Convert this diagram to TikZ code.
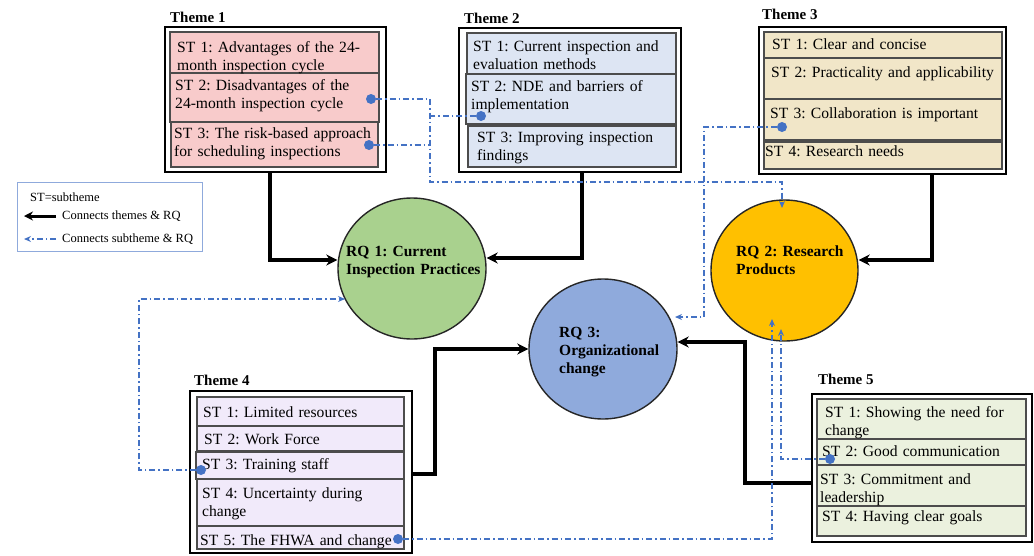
\documentclass[tikz,border=0pt]{standalone}
\usepackage{fontspec}
\setmainfont{Liberation Serif}
\usetikzlibrary{arrows.meta,fit,shapes.geometric}
\definecolor{pinkf}{RGB}{248,203,203}
\definecolor{bluef}{RGB}{221,229,243}
\definecolor{tanf}{RGB}{241,230,200}
\definecolor{lavf}{RGB}{241,234,250}
\definecolor{grnf}{RGB}{235,241,222}
\definecolor{rqgreen}{RGB}{169,209,142}
\definecolor{rqorange}{RGB}{255,192,0}
\definecolor{rqblue}{RGB}{143,170,220}
\definecolor{lnblue}{RGB}{68,114,196}
\definecolor{legb}{RGB}{143,170,220}
\begin{document}
\frenchspacing
\begin{tikzpicture}[x=1pt,y=-1pt,
  outer/.style={draw=black,line width=2.2pt,inner sep=0pt,fill=white},
  stbox/.style={draw=black!70,line width=1.2pt,inner sep=0pt},
  sttext/.style={anchor=base west,inner sep=0pt,align=left,text width=240pt,
     font=\fontsize{15.6}{18}\selectfont},
  thlabel/.style={anchor=base west,inner sep=0pt,font=\fontsize{15}{16}\selectfont\bfseries},
  rqtext/.style={anchor=base west,inner sep=0pt,align=left,text width=140pt,
     font=\fontsize{15.5}{18}\selectfont\bfseries},
  rq/.style={draw=black!85,line width=1.4pt,ellipse,inner sep=0pt},
  blk/.style={draw=black,line width=3.2pt,-{Stealth[length=11pt,width=11pt]}},
  blu/.style={draw=lnblue,line width=1.4pt,dash pattern=on 6pt off 3pt on 1.5pt off 3pt},
  bluarr/.style={blu,-{Stealth[length=7pt,width=6pt]}},
  dot/.style={circle,fill=lnblue,inner sep=0pt,minimum size=10pt},
  legtext/.style={anchor=west,inner sep=0pt,font=\fontsize{12.5}{14}\selectfont}
]
\useasboundingbox (0,0) rectangle (1034,555);

% ---------------- Theme 1 ----------------
\node[thlabel] (l1) at (170,22) {Theme 1};
\node[outer,fit={(165,27) (386,172)}] (th1) {};
\node[stbox,fill=pinkf,fit={(170,32) (379,73)}] (t1s1) {};
\node[stbox,fill=pinkf,fit={(170,73) (379,122)}] (t1s2) {};
\node[stbox,fill=pinkf,fit={(171,122) (378,167)}] (t1s3) {};
\node[sttext] at (177,52) {ST 1: Advantages of the 24-\\month inspection cycle};
\node[sttext] at (175,90) {ST 2: Disadvantages of the\\24-month inspection cycle};
\node[sttext] at (174,138) {ST 3: The risk-based approach\\for scheduling inspections};

% ---------------- Theme 2 ----------------
\node[thlabel] (l2) at (464,23) {Theme 2};
\node[outer,fit={(459,28) (681,172)}] (th2) {};
\node[stbox,fill=bluef,fit={(467,33) (676,74)}] (t2s1) {};
\node[stbox,fill=bluef,fit={(466,74) (676,124)}] (t2s2) {};
\node[stbox,fill=bluef,fit={(468,126) (676,167)}] (t2s3) {};
\node[sttext] at (473,51) {ST 1: Current inspection and\\evaluation methods};
\node[sttext] at (471,91) {ST 2: NDE and barriers of\\implementation};
\node[sttext] at (477,142) {ST 3: Improving inspection\\findings};

% ---------------- Theme 3 ----------------
\node[thlabel] (l3) at (762,19) {Theme 3};
\node[outer,fit={(759,27) (1006,174)}] (th3) {};
\node[stbox,fill=tanf,fit={(764,32) (1002,58)}] (t3s1) {};
\node[stbox,fill=tanf,fit={(764,58) (1002,99)}] (t3s2) {};
\node[stbox,fill=tanf,fit={(764,99) (1002,140)}] (t3s3) {};
\node[stbox,fill=tanf,fit={(764,142) (1002,169)}] (t3s4) {};
\node[sttext] at (772,49) {ST 1: Clear and concise};
\node[sttext] at (771,77) {ST 2: Practicality and applicability};
\node[sttext] at (770,118) {ST 3: Collaboration is important};
\node[sttext] at (765,156) {ST 4: Research needs};

% ---------------- Theme 4 ----------------
\node[thlabel] (l4) at (194,385) {Theme 4};
\node[outer,fit={(190,391) (412,553)}] (th4) {};
\node[stbox,fill=lavf,fit={(197,397) (404,426)}] (t4s1) {};
\node[stbox,fill=lavf,fit={(197,426) (404,451)}] (t4s2) {};
\node[stbox,fill=lavf,fit={(196,452) (404,479)}] (t4s3) {};
\node[stbox,fill=lavf,fit={(197,479) (404,526)}] (t4s4) {};
\node[stbox,fill=lavf,fit={(197,526) (404,549)}] (t4s5) {};
\node[sttext] at (203,417) {ST 1: Limited resources};
\node[sttext] at (204,444) {ST 2: Work Force};
\node[sttext] at (202,469) {ST 3: Training staff};
\node[sttext] at (202,498) {ST 4: Uncertainty during\\change};
\node[sttext] at (200,545) {ST 5: The FHWA and change};

% ---------------- Theme 5 ----------------
\node[thlabel] (l5) at (818,384) {Theme 5};
\node[outer,fit={(812,394) (1032,542)}] (th5) {};
\node[stbox,fill=grnf,fit={(817,399) (1026,439)}] (t5s1) {};
\node[stbox,fill=grnf,fit={(817,439) (1026,465)}] (t5s2) {};
\node[stbox,fill=grnf,fit={(817,465) (1026,506)}] (t5s3) {};
\node[stbox,fill=grnf,fit={(817,506) (1026,536)}] (t5s4) {};
\node[sttext] at (825,417) {ST 1: Showing the need for\\change};
\node[sttext] at (822,456) {ST 2: Good communication};
\node[sttext] at (820,484) {ST 3: Commitment and\\leadership};
\node[sttext] at (822,521) {ST 4: Having clear goals};

% ---------------- Research questions ----------------
\node[rq,fill=rqgreen,minimum width=148pt,minimum height=141pt] (rq1) at (412,268.5) {};
\node[rq,fill=rqorange,minimum width=147pt,minimum height=141pt] (rq2) at (784.5,270.5) {};
\node[rq,fill=rqblue,minimum width=148pt,minimum height=140pt] (rq3) at (603,349) {};
\node[rqtext] at (346,256) {RQ 1: Current\\Inspection Practices};
\node[rqtext] at (736,256) {RQ 2: Research\\Products};
\node[rqtext] at (559,337) {RQ 3:\\Organizational\\change};

% ---------------- Theme -> RQ connectors ----------------
\draw[blk] (th1.south -| 270,0) |- (rq1.west |- 0,260);
\draw[blk] (th2.south -| 582,0) |- (rq1.east |- 0,258);
\draw[blk] (th3.south -| 932,0) |- (rq2.east |- 0,260);
\draw[blk] (th4.east |- 0,474) -| (435,349) -- (rq3.west);
\draw[blk] (th5.west |- 0,483) -| (745,342) -- (rq3.east |- 0,342);

% ---------------- Subtheme dots ----------------
\node[dot] (d12) at (371,99) {};
\node[dot] (d13) at (369,145) {};
\node[dot] (d22) at (481,116) {};
\node[dot] (d33) at (782,127) {};
\node[dot] (d43) at (201,470) {};
\node[dot] (d45) at (398,539) {};
\node[dot] (d52) at (830,459) {};

% ---------------- Subtheme -> RQ connectors ----------------
\coordinate (j1) at (430,182);
\coordinate (a2t) at (782,208);
\draw[bluarr] (d12.east) -| (j1) -| (a2t);
\draw[blu] (d13.east) -- (d13 -| j1);
\draw[blu] (d22.west) -- (d22 -| j1);
\coordinate (a3r) at (675,317);
\draw[bluarr] (d33.west) -| (704,317) -- (a3r);
\coordinate (a1l) at (345,299);
\draw[bluarr] (d43.west) -| (139,299) -- (a1l);
\coordinate (a2b1) at (772,319);
\coordinate (a2b2) at (781,329);
\draw[bluarr] (d45.east) -| (a2b1);
\draw[bluarr] (d52.west) -| (a2b2);

% ---------------- Legend ----------------
\node[draw=legb,line width=0.9pt,inner sep=0pt,fit={(17,182) (202,251)}] (leg) {};
\node[legtext] (lg1) at (30,197) {ST=subtheme};
\node[legtext] (lg2) at (62,216) {Connects themes \& RQ};
\node[legtext] (lg3) at (62,239) {Connects subtheme \& RQ};
\coordinate (k1a) at (56,216); \coordinate (k1b) at (24,216);
\coordinate (k2a) at (56,239); \coordinate (k2b) at (24,239);
\draw[draw=black,line width=3pt,-{Stealth[length=9pt,width=9pt]}] (k1a) -- (k1b);
\draw[bluarr] (k2a) -- (k2b);
\end{tikzpicture}
\end{document}
